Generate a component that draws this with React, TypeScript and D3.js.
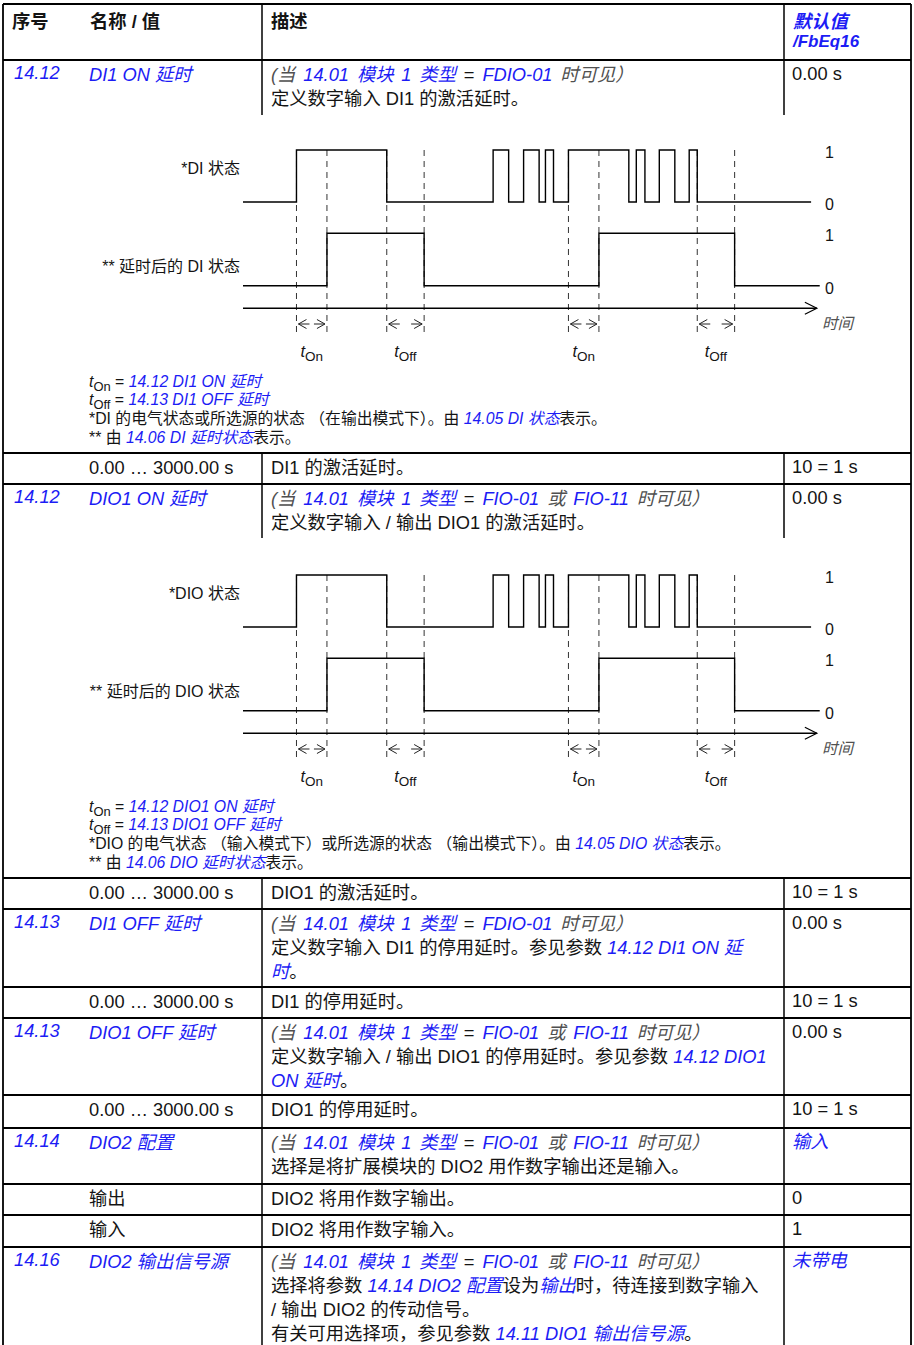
import React from 'react';
import * as d3 from 'd3';

const W = 914;
const H = 1345;
const BLUE = '#1c1cf5';
const INK = '#141414';
const GREY = '#505050';
const FONT = '"Liberation Sans", Arial, "Noto Sans CJK SC", sans-serif';

// 波形数据：时间轴 0..100（任意单位）
const inputEdges = [9.3, 25.0, 43.5, 46.2, 48.8, 51.5, 52.6, 54.0, 56.6, 67.1, 68.4, 69.9, 72.4, 75.1, 77.6, 79.0];
const inputEnd = 98.8;
const delayedEdges = [14.6, 31.5, 61.9, 85.5];
const delayedEnd = 100.3;
const axisEnd = 99.8;
const delayFrom = [9.3, 25.0, 56.6, 79.0];
const delayTo = [14.6, 31.5, 61.9, 85.5];
const delaySub = ['On', 'Off', 'On', 'Off'];
const levelTicks = ['1', '0', '1', '0'];

// 表格内容 ([..] 蓝色斜体, _.._ 斜体, {..} t 下标)
const headerCells = ['序号', '名称 / 值', '描述'];
const headerDefault = ['默认值', '/FbEq16'];
const visFDIO = '_(当 _[14.01 模块 1 类型] = [FDIO-01] _时可见）_';
const visFIO = '_(当 _[14.01 模块 1 类型] = [FIO-01] _或 _[FIO-11] _时可见）_';

const rowIds = ['14.12', '', '14.12', '', '14.13', '', '14.13', '', '14.14', '', '', '14.16'];
const rowNames = [
  '[DI1 ON 延时]', '0.00 … 3000.00 s', '[DIO1 ON 延时]', '0.00 … 3000.00 s',
  '[DI1 OFF 延时]', '0.00 … 3000.00 s', '[DIO1 OFF 延时]', '0.00 … 3000.00 s',
  '[DIO2 配置]', '输出', '输入', '[DIO2 输出信号源]',
];
const rowDescs = [
  [visFDIO, '定义数字输入 DI1 的激活延时。'],
  ['DI1 的激活延时。'],
  [visFIO, '定义数字输入 / 输出 DIO1 的激活延时。'],
  ['DIO1 的激活延时。'],
  [visFDIO, '定义数字输入 DI1 的停用延时。参见参数 [14.12 DI1 ON 延]', '[时]。'],
  ['DI1 的停用延时。'],
  [visFIO, '定义数字输入 / 输出 DIO1 的停用延时。参见参数 [14.12 DIO1]', '[ON 延时]。'],
  ['DIO1 的停用延时。'],
  [visFIO, '选择是将扩展模块的 DIO2 用作数字输出还是输入。'],
  ['DIO2 将用作数字输出。'],
  ['DIO2 将用作数字输入。'],
  [visFIO, '选择将参数 [14.14 DIO2 配置]设为[输出]时，待连接到数字输入', '/ 输出 DIO2 的传动信号。', '有关可用选择项，参见参数 [14.11 DIO1 输出信号源]。'],
];
const rowDefaults = ['0.00 s', '10 = 1 s', '0.00 s', '10 = 1 s', '0.00 s', '10 = 1 s', '0.00 s', '10 = 1 s', '[输入]', '0', '1', '[未带电]'];

const diagramStateLabels = [
  ['*DI 状态', '** 延时后的 DI 状态'],
  ['*DIO 状态', '** 延时后的 DIO 状态'],
];
const diagramNotes = [
  ['{On} = [14.12 DI1 ON 延时]', '{Off} = [14.13 DI1 OFF 延时]', '*DI 的电气状态或所选源的状态 （在输出模式下）。由 [14.05 DI 状态]表示。', '** 由 [14.06 DI 延时状态]表示。'],
  ['{On} = [14.12 DIO1 ON 延时]', '{Off} = [14.13 DIO1 OFF 延时]', '*DIO 的电气状态 （输入模式下）或所选源的状态 （输出模式下）。由 [14.05 DIO 状态]表示。', '** 由 [14.06 DIO 延时状态]表示。'],
];

// 布局
const L = 3;
const R = 911;
const C1 = 262;
const C2 = 784;
const TOP = 4;
const rowTops = [60, 453, 484, 878, 909, 987, 1018, 1095, 1128, 1184, 1215, 1247];
const diagramRows = [0, 2];
const cellBottoms = [115, 538];
const diagramOffsets = [0, 425];
const FS = 18.3;

const TOKEN = /(\{[^}]*\}|\[[^\]]*\]|_[^_]*_)/;

function rich(src: string, base: string = INK) {
  const parts = src.split(TOKEN).filter((p) => p !== '');
  const out: React.ReactNode[] = [];
  let pending = 0;
  parts.forEach((p, i) => {
    const dy = pending ? -pending : undefined;
    pending = 0;
    if (p.startsWith('{')) {
      out.push(
        <tspan key={i + 'a'} fontStyle="italic" fill={INK} dy={dy}>t</tspan>,
        <tspan key={i + 'b'} fontSize="0.82em" dy={4} fill={INK}>{p.slice(1, -1)}</tspan>,
      );
      pending = 4;
    } else if (p.startsWith('[')) {
      out.push(<tspan key={i} fill={BLUE} fontStyle="italic" dy={dy}>{p.slice(1, -1)}</tspan>);
    } else if (p.startsWith('_')) {
      out.push(<tspan key={i} fill={GREY} fontStyle="italic" dy={dy}>{p.slice(1, -1)}</tspan>);
    } else {
      out.push(<tspan key={i} fill={base} dy={dy}>{p}</tspan>);
    }
  });
  return out;
}

const x = d3.scaleLinear().domain([0, 100]).range([243, 818]);
const yIn = d3.scaleLinear().domain([0, 1]).range([202, 150]);
const yOut = d3.scaleLinear().domain([0, 1]).range([285.7, 233.3]);
const AXIS_Y = 308.3;

function toSteps(edges: number[], end: number): [number, number][] {
  const pts: [number, number][] = [[0, 0]];
  let v = 0;
  edges.forEach((t) => {
    v = 1 - v;
    pts.push([t, v]);
  });
  pts.push([end, v]);
  return pts;
}

const stepLine = (ys: d3.ScaleLinear<number, number>) =>
  d3.line<[number, number]>().x((d) => x(d[0])).y((d) => ys(d[1])).curve(d3.curveStepAfter);

const Diagram = ({ idx }: { idx: number }) => {
  const dy = diagramOffsets[idx];
  const labels = diagramStateLabels[idx];
  const notes = diagramNotes[idx];
  const marks = d3.sort(Array.from(new Set([...delayFrom, ...delayTo])));
  const ax0 = x(0);
  const ax1 = x(axisEnd);
  const ay = 324;
  return (
    <g transform={`translate(0,${dy})`}>
      {marks.map((t) => (
        <line key={t} x1={x(t)} x2={x(t)} y1={yIn(1)} y2={332} stroke="#333" strokeWidth={1} strokeDasharray="6,5" />
      ))}
      <path d={stepLine(yIn)(toSteps(inputEdges, inputEnd)) || ''} fill="none" stroke="#000" strokeWidth={1.4} />
      <path d={stepLine(yOut)(toSteps(delayedEdges, delayedEnd)) || ''} fill="none" stroke="#000" strokeWidth={1.4} />
      <line x1={ax0} x2={ax1} y1={AXIS_Y} y2={AXIS_Y} stroke="#000" strokeWidth={1.4} />
      <path d={`M${ax1 - 12},${AXIS_Y - 6}L${ax1},${AXIS_Y}L${ax1 - 12},${AXIS_Y + 6}`} fill="none" stroke="#000" strokeWidth={1.2} />
      {delayFrom.map((t0, i) => {
        const a = x(t0);
        const b = x(delayTo[i]);
        return (
          <g key={i} stroke="#222" strokeWidth={1} fill="none">
            <path d={`M${a + 10},${ay - 4.5}L${a + 2},${ay}L${a + 10},${ay + 4.5}M${a + 2},${ay}H${a + 13}`} />
            <path d={`M${b - 10},${ay - 4.5}L${b - 2},${ay}L${b - 10},${ay + 4.5}M${b - 2},${ay}H${b - 13}`} />
            <text x={(a + b) / 2} y={357} textAnchor="middle" stroke="none" fill={INK} fontSize={16.5}>
              <tspan fontStyle="italic">t</tspan>
              <tspan fontSize={13.5} dy={4}>{delaySub[i]}</tspan>
            </text>
          </g>
        );
      })}
      <text x={240} y={174} textAnchor="end" fontSize={16} fill={INK}>{labels[0]}</text>
      <text x={240} y={272} textAnchor="end" fontSize={16} fill={INK}>{labels[1]}</text>
      {levelTicks.map((t, i) => (
        <text key={i} x={825} y={[yIn(1), yIn(0), yOut(1), yOut(0)][i] + 8} fontSize={16} fill={INK}>{t}</text>
      ))}
      <text x={822} y={329} fontSize={15.5} fontStyle="italic" fill={GREY}>时间</text>
      {notes.map((n, i) => (
        <text key={i} x={89} y={386.5 + i * 18.7} fontSize={15.8} style={{ whiteSpace: 'pre' }}>{rich(n)}</text>
      ))}
    </g>
  );
};

export default function App() {
  const bottoms = rowTops.map((t, i) => (i + 1 < rowTops.length ? rowTops[i + 1] : H));
  return (
    <svg width={W} height={H} style={{ position: 'absolute', left: 0, top: 0, display: 'block' }} fontFamily={FONT}>
      <rect width={W} height={H} fill="#fff" />
      {/* 表头 */}
      <g fontWeight="bold" fontSize={FS} fill={INK}>
        <text x={12} y={28}>{headerCells[0]}</text>
        <text x={90} y={28}>{headerCells[1]}</text>
        <text x={271} y={28}>{headerCells[2]}</text>
        <text x={793} y={28} fill={BLUE} fontStyle="italic">{headerDefault[0]}</text>
        <text x={793} y={47} fill={BLUE} fontStyle="italic" fontSize={17}>{headerDefault[1]}</text>
      </g>
      {rowIds.map((id, i) => {
        const top = rowTops[i];
        const di = diagramRows.indexOf(i);
        const cellBottom = di >= 0 ? cellBottoms[di] : bottoms[i];
        return (
          <g key={i} fontSize={FS} style={{ whiteSpace: 'pre' }}>
            {id && <text x={14} y={top + 19} fill={BLUE} fontStyle="italic">{id}</text>}
            <text x={89} y={top + 21}>{rich(rowNames[i])}</text>
            {rowDescs[i].map((d, j) => (
              <text key={j} x={271} y={top + 21 + j * 24} wordSpacing={d.startsWith('_(') ? 2.8 : undefined}>{rich(d)}</text>
            ))}
            <text x={792} y={top + 20}>{rich(rowDefaults[i])}</text>
            <line x1={C1} x2={C1} y1={top} y2={cellBottom} stroke="#000" strokeWidth={1.5} />
            <line x1={C2} x2={C2} y1={top} y2={cellBottom} stroke="#000" strokeWidth={1.5} />
          </g>
        );
      })}
      {diagramRows.map((_, i) => (
        <Diagram key={i} idx={i} />
      ))}
      {/* 网格线 */}
      <g stroke="#000" strokeWidth={1.8}>
        <line x1={L} x2={R} y1={TOP} y2={TOP} />
        {rowTops.map((t) => (
          <line key={t} x1={L} x2={R} y1={t} y2={t} />
        ))}
        <line x1={C1} x2={C1} y1={TOP} y2={60} strokeWidth={1.5} />
        <line x1={C2} x2={C2} y1={TOP} y2={60} strokeWidth={1.5} />
        <line x1={L} x2={L} y1={TOP} y2={H} />
        <line x1={R} x2={R} y1={TOP} y2={H} />
      </g>
    </svg>
  );
}
